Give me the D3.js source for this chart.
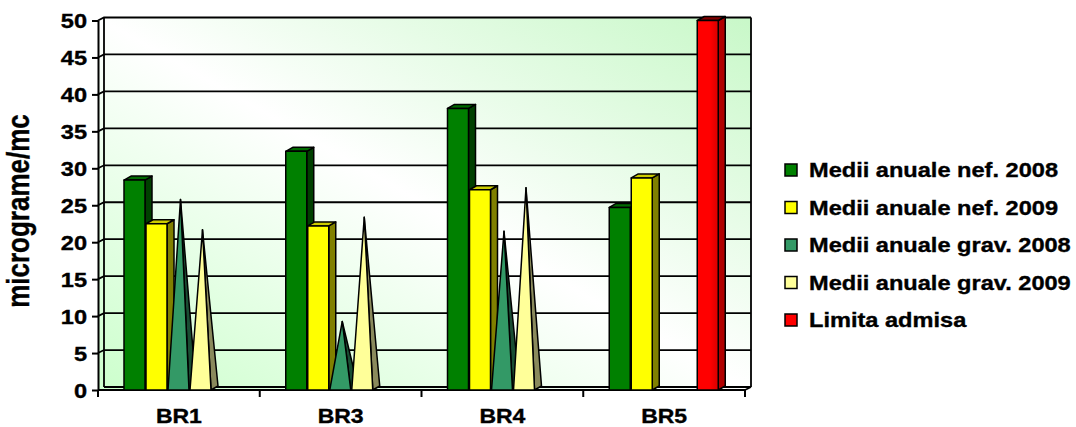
<!DOCTYPE html>
<html>
<head>
<meta charset="utf-8">
<script src="https://cdn.jsdelivr.net/npm/d3@7"></script>
<style>
html,body{margin:0;padding:0;background:#fff;}
text{font-family:"Liberation Sans",Arial,sans-serif;font-weight:bold;fill:#000;stroke:#000;stroke-width:0.35px;}
</style>
</head>
<body>
<script>
// ---- data ----
const categories = ["BR1", "BR3", "BR4", "BR5"];
const seriesNames = ["Medii anuale nef. 2008", "Medii anuale nef. 2009", "Medii anuale grav. 2008", "Medii anuale grav. 2009", "Limita admisa"];
const nef2008 = [28.4, 32.3, 38.1, 24.7];
const nef2009 = [22.5, 22.2, 27.1, 28.7];
const grav2008 = [25.5, 9.0, 21.2, null];
const grav2009 = [21.4, 23.1, 27.1, null];
const limita = [null, null, null, 50];
const yTicks = [0, 5, 10, 15, 20, 25, 30, 35, 40, 45, 50];
const yTitle = "micrograme/mc";

const seriesValues = [nef2008, nef2009, grav2008, grav2009, limita];
const seriesShape = ["bar", "bar", "pyramid", "pyramid", "bar"];
const seriesColors = [
  {front: "#008000", side: "#004000", top: "#006a00"},
  {front: "#ffff00", side: "#808000", top: "#cccc00"},
  {front: "#339966", side: "#1a4d33", top: "#2a8055"},
  {front: "#ffff99", side: "#8a8a5c", top: "#cccc7a"},
  {front: "#ff0000", side: "#b00000", top: "#800000"}
];

// ---- layout ----
const W = 1076, H = 427;
const SX = 1.18;          // horizontal glyph stretch seen in the reference
const DX = 6, DY = 3;     // wall depth
const BDX = 7, BDY = 4;   // bar depth

const svg = d3.select("body").append("svg").attr("width", W).attr("height", H);
const defs = svg.append("defs");

const y = d3.scaleLinear().domain([0, 50]).range([390, 20.5]);
const x = d3.scaleBand().domain(categories).range([98, 745]);
const xs = d3.scaleBand().domain(seriesNames).range([26, 136]);

const xL = x.range()[0], xR = x.range()[1];
const yB = y(0), yT = y(50);

// background gradient
const g1 = defs.append("linearGradient").attr("id", "bg")
  .attr("x1", 0).attr("y1", 1).attr("x2", 1).attr("y2", 0);
g1.append("stop").attr("offset", 0).attr("stop-color", "#ccffcc");
g1.append("stop").attr("offset", 0.5).attr("stop-color", "#ffffff");
g1.append("stop").attr("offset", 1).attr("stop-color", "#c8f8c8");

const rg = defs.append("linearGradient").attr("id", "redg")
  .attr("x1", 0).attr("y1", 0).attr("x2", 1).attr("y2", 0);
rg.append("stop").attr("offset", 0).attr("stop-color", "#ff0000");
rg.append("stop").attr("offset", 0.6).attr("stop-color", "#ff0000");
rg.append("stop").attr("offset", 1).attr("stop-color", "#d80000");

const line = d3.line();

svg.append("path")
  .attr("d", line([[xL, yT], [xL + DX, yT - DY], [xR + DX, yT - DY], [xR + DX, yB - DY], [xR, yB], [xL, yB]]) + "Z")
  .attr("fill", "url(#bg)");

// gridlines
const grid = svg.append("g").attr("fill", "none").attr("stroke", "#000").attr("stroke-width", 1.8);
yTicks.forEach(v => {
  if (v === 0) {
    grid.append("path").attr("d", line([[xL + DX, y(v) - DY], [xR + DX, y(v) - DY]]));
  } else {
    grid.append("path").attr("d", line([[xL, y(v)], [xL + DX, y(v) - DY], [xR + DX, y(v) - DY]]));
  }
});
grid.append("path").attr("d", line([[xL + DX, yT - DY], [xL + DX, yB - DY]]));
grid.append("path").attr("d", line([[xR + DX, yT - DY], [xR + DX, yB - DY]]));
grid.append("path").attr("d", line([[xR, yB], [xR + DX, yB - DY]]));

// y axis
const yAxis = svg.append("g").attr("transform", `translate(${xL},0)`)
  .call(d3.axisLeft(y).tickValues(yTicks).tickSize(6).tickSizeOuter(0).tickPadding(5));
yAxis.select(".domain").attr("stroke", "#000").attr("stroke-width", 2);
yAxis.selectAll(".tick line").attr("stroke", "#000").attr("stroke-width", 2);
yAxis.selectAll(".tick text")
  .attr("x", -11 / SX).attr("dy", "0.36em")
  .attr("transform", `scale(${SX},1)`)
  .style("font-size", "20px").style("font-family", '"Liberation Sans",Arial,sans-serif').style("font-weight", "bold");

// x axis
const bounds = categories.map(c => x(c)).concat([xR]);
const xAx = svg.append("g").attr("stroke", "#000").attr("stroke-width", 2);
xAx.append("path").attr("d", line([[xL, yB], [xR, yB]]));
bounds.forEach(b => xAx.append("path").attr("d", line([[b, yB], [b, yB + 7]])));
svg.append("g").selectAll("text").data(categories).join("text")
  .attr("transform", c => `translate(${x(c) + x.bandwidth() / 2},423) scale(${SX},1)`)
  .attr("text-anchor", "middle").style("font-size", "19.5px").text(c => c);

// y title
svg.append("text")
  .attr("transform", `translate(29,211) scale(${SX},1) rotate(-90)`)
  .attr("text-anchor", "middle").style("font-size", "26px").text(yTitle);

// bars
const marks = svg.append("g").attr("stroke", "#000").attr("stroke-width", 1.5).attr("stroke-linejoin", "round");
categories.forEach((c, ci) => {
  seriesNames.forEach((s, si) => {
    const v = seriesValues[si][ci];
    if (v === null || v === undefined) return;
    const bx = x(c) + xs(s), w = xs.bandwidth() - 1, top = y(v), bot = y(0);
    const col = seriesColors[si];
    if (seriesShape[si] === "bar") {
      marks.append("path").attr("fill", col.side)
        .attr("d", line([[bx + w, bot], [bx + w, top], [bx + w + BDX, top - BDY], [bx + w + BDX, bot - BDY]]) + "Z");
      marks.append("path").attr("fill", col.top)
        .attr("d", line([[bx, top], [bx + BDX, top - BDY], [bx + w + BDX, top - BDY], [bx + w, top]]) + "Z");
      marks.append("rect").attr("x", bx).attr("y", top).attr("width", w).attr("height", bot - top)
        .attr("fill", si === 4 ? "url(#redg)" : col.front);
    } else {
      const apex = [bx + w / 2 + BDX / 2 - 1.5, top - BDY / 2];
      marks.append("path").attr("fill", col.side)
        .attr("d", line([[bx + w, bot], apex, [bx + w + BDX, bot - BDY]]) + "Z");
      marks.append("path").attr("fill", col.front)
        .attr("d", line([[bx, bot], apex, [bx + w, bot]]) + "Z");
    }
  });
});

// legend
const lg = svg.append("g");
seriesNames.forEach((s, i) => {
  const cy = 170 + i * 37.5;
  lg.append("rect").attr("x", 785).attr("y", cy - 6).attr("width", 12).attr("height", 12)
    .attr("fill", seriesColors[i].front).attr("stroke", "#000").attr("stroke-width", 1.5);
  lg.append("text").attr("transform", `translate(809,${cy + 7}) scale(${SX},1)`)
    .style("font-size", "20px").text(s);
});
</script>
</body>
</html>
